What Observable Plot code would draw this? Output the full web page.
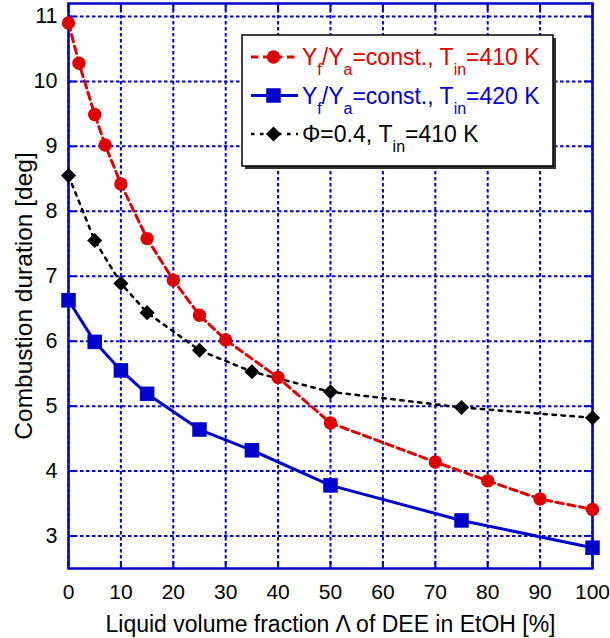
<!DOCTYPE html>
<html><head><meta charset="utf-8">
<script src="https://cdn.jsdelivr.net/npm/d3@7"></script>
<script src="https://cdn.jsdelivr.net/npm/@observablehq/plot@0.6"></script>
<style>html,body{margin:0;padding:0;background:#fff} svg{display:block}</style>
</head><body><div id="chart"></div>
<script>
// Data
const xRed = [0, 2, 5, 7, 10, 15, 20, 25, 30, 40, 50, 70, 80, 90, 100];
const yRed = [10.90, 10.28, 9.49, 9.02, 8.42, 7.58, 6.94, 6.40, 6.02, 5.44, 4.74, 4.14, 3.85, 3.57, 3.41];
const xBlue = [0, 5, 10, 15, 25, 35, 50, 75, 100];
const yBlue = [6.63, 5.99, 5.55, 5.19, 4.64, 4.32, 3.78, 3.24, 2.82];
const xBlack = [0, 5, 10, 15, 25, 35, 50, 75, 100];
const yBlack = [8.55, 7.55, 6.89, 6.44, 5.86, 5.53, 5.22, 4.98, 4.82];
const xTicks = [0, 10, 20, 30, 40, 50, 60, 70, 80, 90, 100];
const yTicks = [3, 4, 5, 6, 7, 8, 9, 10, 11];
const xTitle = "Liquid volume fraction \u039B of DEE in EtOH [%]";
const yTitle = "Combustion duration [deg]";

const BLUE = "#0000cc", RED = "#dd0000", BLACK = "#000000";
const red = xRed.map((x, i) => ({x, y: yRed[i]}));
const blue = xBlue.map((x, i) => ({x, y: yBlue[i]}));
const black = xBlack.map((x, i) => ({x, y: yBlack[i]}));
const FONT = "'Liberation Sans', Arial, Helvetica, sans-serif";

const svg = Plot.plot({
  width: 610, height: 638,
  marginTop: 3, marginBottom: 70, marginLeft: 68, marginRight: 18,
  x: {domain: [0, 100]},
  y: {domain: [2.5, 11.2]},
  style: {fontFamily: FONT, fontSize: "21px", color: "#000", background: "#fff", overflow: "visible"},
  marks: [
    Plot.gridX(xTicks, {stroke: BLUE, strokeOpacity: 1, strokeWidth: 2, strokeDasharray: "3.5,2.5"}),
    Plot.gridY(yTicks, {stroke: BLUE, strokeOpacity: 1, strokeWidth: 2, strokeDasharray: "3.5,2.5"}),
    Plot.tickX(xTicks, {x: d => d, stroke: BLUE, strokeWidth: 2, insetTop: 558}),
    Plot.tickX(xTicks, {x: d => d, stroke: BLUE, strokeWidth: 2, insetBottom: 558}),
    Plot.tickY(yTicks, {y: d => d, stroke: BLUE, strokeWidth: 2, insetLeft: 517}),
    Plot.tickY(yTicks, {y: d => d, stroke: BLUE, strokeWidth: 2, insetRight: 517}),
    Plot.frame({stroke: BLUE, strokeWidth: 2.5}),
    Plot.axisX(xTicks, {tickSize: 0, tickPadding: 16, fontSize: 21, tickFormat: d => String(d), label: null}),
    Plot.axisY(yTicks, {tickSize: 0, tickPadding: 11, fontSize: 21.5, tickFormat: d => String(d), label: null}),
    Plot.text([xTitle], {frameAnchor: "bottom", dy: 56, lineAnchor: "middle", textAnchor: "middle", fontSize: 23}),
    Plot.text([yTitle], {frameAnchor: "left", dx: -44, dy: 10, rotate: -90, lineAnchor: "middle", textAnchor: "middle", fontSize: 24.5}),
    Plot.line(black, {x: "x", y: "y", stroke: BLACK, strokeWidth: 2.5, strokeDasharray: "3.5,5.5"}),
    Plot.line(red, {x: "x", y: "y", stroke: RED, strokeWidth: 3, strokeDasharray: "7.5,4.5"}),
    Plot.line(blue, {x: "x", y: "y", stroke: BLUE, strokeWidth: 3}),
    Plot.dot(black, {x: "x", y: "y", symbol: "diamond2", r: 6.8, fill: BLACK, stroke: "none"}),
    Plot.dot(red, {x: "x", y: "y", symbol: "circle", r: 6.7, fill: RED, stroke: "none"}),
    Plot.dot(blue, {x: "x", y: "y", symbol: "square", r: 8.2, fill: BLUE, stroke: "none"})
  ]
});
document.getElementById("chart").appendChild(svg);

// Legend
const lg = d3.select(svg).append("g").attr("font-family", FONT).attr("text-anchor", "start");
const bx = 242, by = 35, bw = 311, bh = 131;
lg.append("rect").attr("x", bx + 3).attr("y", by + 3).attr("width", bw).attr("height", bh).attr("fill", "#333");
lg.append("rect").attr("x", bx).attr("y", by).attr("width", bw).attr("height", bh).attr("fill", "#fff").attr("stroke", "#000").attr("stroke-width", 1.5);

const entries = [
  {color: RED, dash: "7.5,4.5", sym: "circle", r: 6.7, base: 65, parts: [["Y"], ["f", 1], ["/Y"], ["a", 1], ["=const., T"], ["in", 1], ["=410 K"]]},
  {color: BLUE, dash: null, sym: "square", r: 8.2, base: 103.5, parts: [["Y"], ["f", 1], ["/Y"], ["a", 1], ["=const., T"], ["in", 1], ["=420 K"]]},
  {color: BLACK, dash: "3.5,5.5", sym: "diamond2", r: 6.8, base: 142, parts: [["\u03A6=0.4, T"], ["in", 1], ["=410 K"]]}
];
const symMap = {circle: d3.symbolCircle, square: d3.symbolSquare, diamond2: d3.symbolDiamond2};
for (const e of entries) {
  const cy = e.base - 8;
  const ln = lg.append("line").attr("x1", 251).attr("x2", 298).attr("y1", cy).attr("y2", cy)
    .attr("stroke", e.color).attr("stroke-width", e.color === BLACK ? 2.5 : 3);
  if (e.dash) ln.attr("stroke-dasharray", e.dash);
  lg.append("path").attr("transform", `translate(273.5,${cy})`)
    .attr("d", d3.symbol(symMap[e.sym], e.r * e.r * Math.PI)()).attr("fill", e.color);
  const t = lg.append("text").attr("x", 302).attr("y", e.base).attr("font-size", 23).attr("fill", e.color);
  let sub = false;
  for (const [s, isSub] of e.parts) {
    const ts = t.append("tspan").text(s);
    if (isSub && !sub) { ts.attr("dy", 10).attr("font-size", 16); sub = true; }
    else if (isSub) { ts.attr("font-size", 16); }
    else if (sub) { ts.attr("dy", -10); sub = false; }
  }
}
</script></body></html>
